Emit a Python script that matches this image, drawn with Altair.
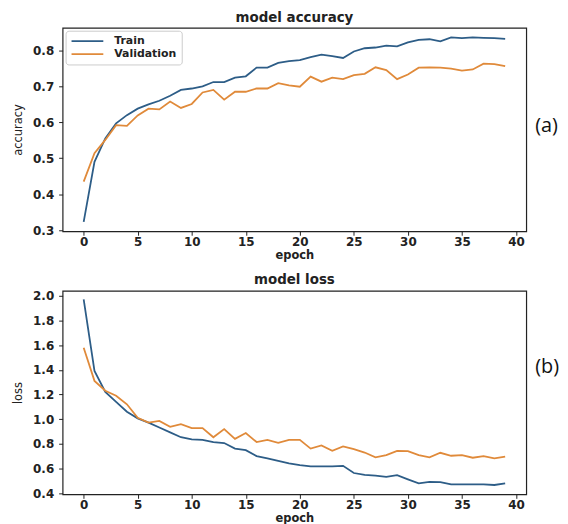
import altair as alt
import pandas as pd

epochs = list(range(40))
series = ["Train", "Validation"]
colors = ["#2d5d87", "#e08a3a"]

train_acc = [0.323, 0.49, 0.555, 0.597, 0.62, 0.638, 0.65, 0.66, 0.674, 0.69,
             0.694, 0.70, 0.712, 0.712, 0.724, 0.728, 0.752, 0.752, 0.765, 0.77,
             0.773, 0.781, 0.788, 0.784, 0.779, 0.797, 0.806, 0.808, 0.813, 0.811,
             0.822, 0.829, 0.831, 0.825, 0.836, 0.834, 0.836, 0.835, 0.834, 0.832]
val_acc = [0.435, 0.514, 0.551, 0.592, 0.590, 0.619, 0.638, 0.636, 0.658, 0.640,
           0.651, 0.683, 0.690, 0.663, 0.685, 0.685, 0.694, 0.694, 0.709, 0.703,
           0.699, 0.727, 0.713, 0.724, 0.720, 0.731, 0.735, 0.753, 0.745, 0.720,
           0.733, 0.752, 0.753, 0.752, 0.749, 0.744, 0.747, 0.763, 0.762, 0.756]
train_loss = [1.97, 1.39, 1.22, 1.14, 1.06, 1.006, 0.972, 0.932, 0.893, 0.853,
              0.835, 0.832, 0.814, 0.806, 0.761, 0.748, 0.70, 0.682, 0.661, 0.642,
              0.627, 0.616, 0.616, 0.616, 0.621, 0.563, 0.548, 0.542, 0.532, 0.545,
              0.511, 0.479, 0.492, 0.490, 0.471, 0.471, 0.471, 0.471, 0.466, 0.479]
val_loss = [1.578, 1.31, 1.23, 1.19, 1.12, 1.011, 0.972, 0.985, 0.937, 0.959,
            0.927, 0.927, 0.853, 0.919, 0.840, 0.887, 0.814, 0.832, 0.808, 0.832,
            0.832, 0.761, 0.787, 0.743, 0.779, 0.756, 0.729, 0.690, 0.708, 0.743,
            0.740, 0.708, 0.690, 0.727, 0.703, 0.708, 0.687, 0.700, 0.682, 0.695]

x_ticks = [0, 5, 10, 15, 20, 25, 30, 35, 40]
acc_ticks = [0.3, 0.4, 0.5, 0.6, 0.7, 0.8]
loss_ticks = [0.4, 0.6, 0.8, 1.0, 1.2, 1.4, 1.6, 1.8, 2.0]

W, H = 467, 205
FONT = "DejaVu Sans"


def long_df(train, val):
    return pd.DataFrame({
        "epoch": epochs * 2,
        "value": train + val,
        "series": ["Train"] * len(train) + ["Validation"] * len(val),
    })


def panel(df, title, ylabel, ydomain, yticks, tag, tag_y):
    line = alt.Chart(df).mark_line(strokeWidth=1.8, clip=True).encode(
        x=alt.X("epoch:Q",
                scale=alt.Scale(domain=[-1.95, 40.95], nice=False, zero=False),
                axis=alt.Axis(values=x_ticks, format="d", title="epoch",
                              labelPadding=1, titlePadding=2, titleFontSize=11.5)),
        y=alt.Y("value:Q",
                scale=alt.Scale(domain=ydomain, nice=False, zero=False),
                axis=alt.Axis(values=yticks, format=".1f", title=ylabel,
                              labelPadding=5, titlePadding=9,
                              titleFont=FONT, titleFontWeight="normal",
                              titleFontSize=11.5)),
        color=alt.Color("series:N",
                        scale=alt.Scale(domain=series, range=colors),
                        legend=alt.Legend(title=None, orient="top-left", offset=3,
                                          symbolType="stroke", symbolSize=1024,
                                          symbolStrokeWidth=1.8, clipHeight=11,
                                          rowPadding=1, labelOffset=10,
                                          labelFont=FONT, labelFontSize=11,
                                          labelFontWeight="bold", labelColor="#222",
                                          fillColor="rgba(255,255,255,0.8)",
                                          strokeColor="#cccccc", cornerRadius=3,
                                          padding=5)),
        order=alt.Order("epoch:Q"),
    )
    tag_text = alt.Chart(pd.DataFrame({"t": [tag]})).mark_text(
        font="Open Sans", fontSize=20, align="left", baseline="middle", color="#111"
    ).encode(text="t:N", x=alt.value(W + 9), y=alt.value(tag_y))
    return alt.layer(line, tag_text).properties(
        width=W, height=H,
        title=alt.TitleParams(title, font=FONT, fontSize=13.5, fontWeight="bold",
                              color="#222", anchor="middle", offset=3),
    )


acc = panel(long_df(train_acc, val_acc), "model accuracy", "accuracy",
            [0.297, 0.863], acc_ticks, "(a)", 99)
loss = panel(long_df(train_loss, val_loss), "model loss", "loss",
             [0.39, 2.04], loss_ticks, "(b)", 77)

chart = alt.vconcat(acc, loss, spacing=10).properties(
    padding={"left": 4, "top": 0, "right": 0, "bottom": 0},
    background="white",
).configure_view(
    stroke="#222", strokeWidth=1.2
).configure_axis(
    domain=False, grid=False, ticks=True, tickSize=4, tickColor="#222",
    labelFont=FONT, labelFontSize=12, labelFontWeight="bold", labelColor="#222",
    titleFont=FONT, titleFontSize=12, titleFontWeight="bold", titleColor="#222",
)

chart.save("out.html", embed_options={"renderer": "svg", "actions": False})
